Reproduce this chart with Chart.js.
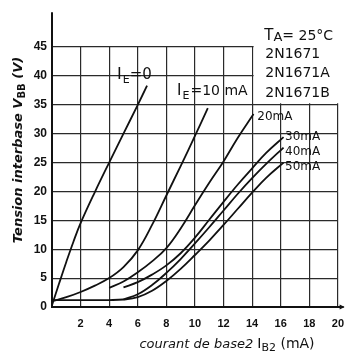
<!DOCTYPE html>
<html><head><meta charset="utf-8">
<script src="https://cdn.jsdelivr.net/npm/chart.js@4.4.0/dist/chart.umd.min.js"></script>
<style>html,body{margin:0;padding:0;background:#fff}canvas{display:block}</style>
</head><body>
<canvas id="c" width="345" height="352"></canvas>
<script>
// ---- data ----
const xTicks = [0, 2, 4, 6, 8, 10, 12, 14, 16, 18, 20];
const yTicks = [0, 5, 10, 15, 20, 25, 30, 35, 40, 45];

const ie0X  = [0, 0.5, 1, 1.5, 2, 3, 4, 5, 6, 6.65];
const ie0Y  = [0.3, 4.1, 7.8, 11.3, 14.5, 19.9, 25.0, 30.0, 35.0, 38.3];

const ie10X = [0, 1, 2, 3, 4, 5, 6, 7, 8, 9, 10, 10.9];
const ie10Y = [1.0, 1.7, 2.6, 3.7, 5.0, 6.9, 9.8, 14.2, 19.3, 24.4, 29.6, 34.4];

const ie20X = [4, 5, 6, 7, 8, 9, 10, 11, 12, 13, 14.1];
const ie20Y = [3.3, 4.4, 6.0, 7.9, 10.2, 13.6, 17.6, 21.5, 25.2, 29.3, 33.4];

const ie30X = [5, 6, 7, 8, 9, 10, 11, 12, 13, 14, 15, 16.2];
const ie30Y = [3.4, 4.3, 5.6, 7.2, 9.3, 12.0, 15.1, 18.2, 21.2, 24.0, 26.7, 29.4];

const ie40X = [5, 6, 7, 8, 9, 10, 11, 12, 13, 14, 15, 16.2];
const ie40Y = [1.3, 2.2, 3.8, 5.9, 8.3, 11.0, 13.8, 16.7, 19.6, 22.3, 24.8, 27.6];

const ie50X = [0, 1, 2, 3, 4, 5, 6, 7, 8, 9, 10, 11, 12, 13, 14, 15, 16.2];
const ie50Y = [1.2, 1.2, 1.2, 1.2, 1.2, 1.3, 1.7, 2.8, 4.5, 6.6, 9.0, 11.5, 14.2, 17.0, 19.8, 22.4, 25.0];

const seriesX = [ie0X, ie10X, ie20X, ie30X, ie40X, ie50X];
const seriesY = [ie0Y, ie10Y, ie20Y, ie30Y, ie40Y, ie50Y];

// ---- chart ----
const F = 'DejaVu Sans';
function rich(ctx, x, y, parts) {
  let cx = x;
  for (const p of parts) {
    ctx.font = p.f;
    ctx.fillText(p.t, cx, y + (p.dy || 0));
    cx += ctx.measureText(p.t).width + (p.sp || 0);
  }
  return cx - x;
}
function richWidth(ctx, parts) {
  let w = 0;
  for (const p of parts) { ctx.font = p.f; w += ctx.measureText(p.t).width + (p.sp || 0); }
  return w;
}

const deco = {
  id: 'deco',
  beforeDatasetsDraw(ch) {
    const {ctx, scales: {x, y}, chartArea: a} = ch;
    ctx.save();
    ctx.fillStyle = '#fff';
    const l = x.getPixelForValue(14) + 1.5;
    const t = y.getPixelForValue(45) - 3;
    const b = y.getPixelForValue(35) - 1.5;
    ctx.fillRect(l, t, a.right + 4 - l, b - t);
    ctx.restore();
  },
  afterDraw(ch) {
    const {ctx, scales: {x, y}, chartArea: a} = ch;
    ctx.save();
    ctx.strokeStyle = '#111';
    ctx.fillStyle = '#111';
    ctx.lineWidth = 2;
    // y-axis extension above 45
    ctx.beginPath();
    ctx.moveTo(a.left, a.top);
    ctx.lineTo(a.left, y.getPixelForValue(51));
    ctx.stroke();
    // x-axis extension with arrow
    const xe = x.getPixelForValue(20.4);
    ctx.beginPath();
    ctx.moveTo(a.right, a.bottom);
    ctx.lineTo(xe, a.bottom);
    ctx.stroke();
    ctx.beginPath();
    ctx.moveTo(xe + 1, a.bottom);
    ctx.lineTo(xe - 4, a.bottom - 2.5);
    ctx.lineTo(xe - 4, a.bottom + 2.5);
    ctx.closePath();
    ctx.fill();

    ctx.textBaseline = 'alphabetic';
    ctx.textAlign = 'left';
    const P = (vx, vy) => [x.getPixelForValue(vx), y.getPixelForValue(vy)];

    // top-right block
    let [px, py] = P(14.85, 46.2);
    rich(ctx, px, py, [
      {t: 'T', f: `15px ${F}`},
      {t: 'A', f: `13px ${F}`, dy: 1},
      {t: '= 25°C', f: `14px ${F}`}
    ]);
    [px, py] = P(14.92, 43.1);
    rich(ctx, px, py, [{t: '2N1671', f: `14px ${F}`}]);
    [px, py] = P(14.92, 39.8);
    rich(ctx, px, py, [{t: '2N1671A', f: `14px ${F}`}]);
    [px, py] = P(14.92, 36.3);
    rich(ctx, px, py, [{t: '2N1671B', f: `14px ${F}`}]);

    // curve labels
    [px, py] = P(4.55, 39.5);
    rich(ctx, px, py, [
      {t: 'I', f: `16px ${F}`, sp: 1},
      {t: 'E', f: `11px ${F}`, dy: 4},
      {t: '=0', f: `15px ${F}`}
    ]);
    [px, py] = P(8.75, 36.7);
    rich(ctx, px, py, [
      {t: 'I', f: `15px ${F}`, sp: 1},
      {t: 'E', f: `11px ${F}`, dy: 4, sp: 1},
      {t: '=10 mA', f: `14px ${F}`}
    ]);
    const small = `12px ${F}`;
    [px, py] = P(14.36, 32.4); rich(ctx, px, py, [{t: '20mA', f: small}]);
    [px, py] = P(16.3, 28.9);  rich(ctx, px, py, [{t: '30mA', f: small}]);
    [px, py] = P(16.3, 26.3);  rich(ctx, px, py, [{t: '40mA', f: small}]);
    [px, py] = P(16.3, 23.7);  rich(ctx, px, py, [{t: '50mA', f: small}]);

    // x-axis title
    const xt = [
      {t: 'courant de base2 ', f: `italic 13px ${F}`},
      {t: 'I', f: `14px ${F}`},
      {t: 'B2', f: `11px ${F}`, dy: 3},
      {t: ' (mA)', f: `14px ${F}`}
    ];
    const xw = richWidth(ctx, xt);
    rich(ctx, 227 - xw / 2, 348, xt);

    // y-axis title (rotated)
    const yt = [
      {t: 'Tension interbase V', f: `italic bold 13px ${F}`},
      {t: 'BB', f: `bold 10px ${F}`, dy: 3},
      {t: ' (V)', f: `italic bold 13px ${F}`}
    ];
    const yw = richWidth(ctx, yt);
    ctx.translate(22, 150);
    ctx.rotate(-Math.PI / 2);
    rich(ctx, -yw / 2, 0, yt);
    ctx.restore();
  }
};

new Chart(document.getElementById('c'), {
  type: 'scatter',
  data: {
    datasets: seriesX.map((xs, i) => ({
      data: xs.map((v, j) => ({x: v, y: seriesY[i][j]})),
      showLine: true,
      borderColor: '#111',
      borderWidth: 1.8,
      pointRadius: 0,
      tension: 0.4,
      fill: false
    }))
  },
  options: {
    responsive: false,
    animation: false,
    devicePixelRatio: 1,
    layout: {padding: {left: 0, right: 7, top: 47, bottom: 0}},
    plugins: {legend: {display: false}, tooltip: {enabled: false}},
    scales: {
      x: {
        type: 'linear', min: 0, max: 20,
        afterBuildTicks: s => { s.ticks = xTicks.map(v => ({value: v})); },
        afterFit: s => { s.height = 45; },
        grid: {color: '#2a2a2a', lineWidth: 1.2, drawTicks: true, tickLength: 9, tickColor: 'rgba(0,0,0,0)'},
        border: {color: '#111', width: 2},
        ticks: {
          padding: 1, color: '#111', maxRotation: 0, autoSkip: false,
          font: {family: 'Liberation Sans', weight: 'bold', size: 11},
          callback: v => v === 0 ? '' : String(v)
        }
      },
      y: {
        type: 'linear', min: 0, max: 45,
        afterBuildTicks: s => { s.ticks = yTicks.map(v => ({value: v})); },
        afterFit: s => { s.width = 52; },
        grid: {color: '#2a2a2a', lineWidth: 1.2, drawTicks: false},
        border: {color: '#111', width: 2},
        ticks: {
          padding: 5, color: '#111', autoSkip: false,
          font: {family: 'Liberation Sans', weight: 'bold', size: 12},
          callback: v => String(v)
        }
      }
    }
  },
  plugins: [deco]
});
</script>
</body></html>
